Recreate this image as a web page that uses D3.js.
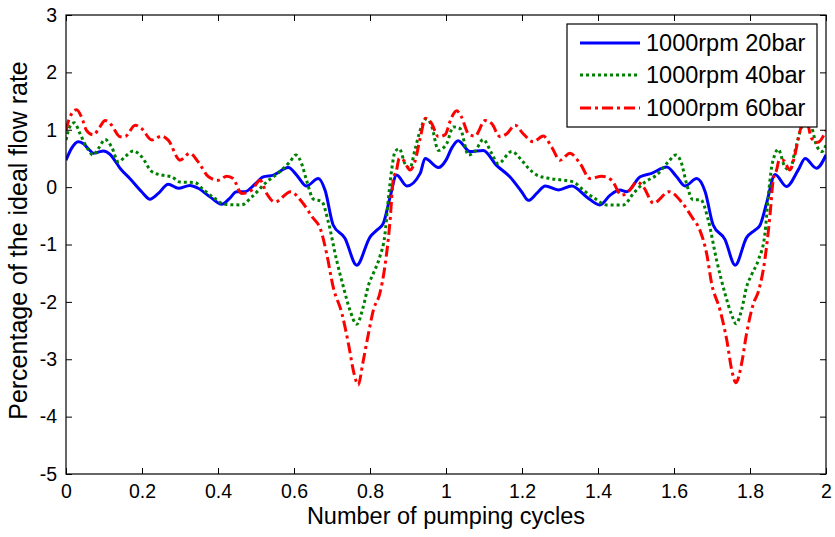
<!DOCTYPE html>
<html>
<head>
<meta charset="utf-8">
<script src="https://cdn.jsdelivr.net/npm/d3@7"></script>
<style>
  html, body { margin: 0; padding: 0; background: #ffffff; }
  svg { display: block; font-family: "Liberation Sans", Arial, Helvetica, sans-serif; }
</style>
</head>
<body>
<svg id="chart" width="835" height="537"></svg>
<script>
// ---------------- data ----------------
const xTicks = [0, 0.2, 0.4, 0.6, 0.8, 1, 1.2, 1.4, 1.6, 1.8, 2];
const yTicks = [-5, -4, -3, -2, -1, 0, 1, 2, 3];
const seriesNames = ["1000rpm 20bar", "1000rpm 40bar", "1000rpm 60bar"];

const flow20bar = [
  [0.000,0.47],[0.015,0.68],[0.032,0.79],[0.045,0.76],[0.060,0.66],[0.072,0.59],[0.085,0.61],
  [0.098,0.63],[0.116,0.57],[0.130,0.45],[0.142,0.33],[0.168,0.15],[0.199,-0.08],[0.221,-0.21],
  [0.243,-0.11],[0.269,0.05],[0.296,-0.02],[0.326,0.03],[0.348,-0.02],[0.379,-0.17],[0.410,-0.30],
  [0.430,-0.20],[0.449,-0.08],[0.471,-0.08],[0.497,0.05],[0.519,0.18],[0.546,0.21],[0.585,0.34],
  [0.607,0.21],[0.633,0.02],[0.664,0.15],[0.682,-0.06],[0.703,-0.66],[0.734,-0.89],[0.765,-1.36],
  [0.800,-0.87],[0.818,-0.75],[0.835,-0.63],[0.853,-0.17],[0.870,0.21],[0.897,0.02],[0.932,0.24],
  [0.945,0.50],[0.980,0.34],[1.000,0.47],[1.015,0.68],[1.032,0.81],[1.063,0.62],[1.098,0.64],
  [1.133,0.38],[1.168,0.18],[1.199,-0.08],[1.217,-0.23],[1.240,-0.10],[1.261,0.02],[1.296,-0.05],
  [1.331,0.02],[1.370,-0.17],[1.405,-0.31],[1.432,-0.14],[1.458,-0.05],[1.475,-0.08],[1.511,0.18],
  [1.541,0.24],[1.581,0.35],[1.607,0.18],[1.629,0.02],[1.660,0.15],[1.682,-0.08],[1.703,-0.66],
  [1.734,-0.91],[1.761,-1.36],[1.791,-0.88],[1.813,-0.75],[1.826,-0.67],[1.844,-0.27],[1.866,0.22],
  [1.896,0.01],[1.927,0.30],[1.945,0.50],[1.975,0.33],[2.000,0.56]
];

const flow40bar = [
  [0.000,0.82],[0.010,1.05],[0.022,1.12],[0.037,0.93],[0.054,0.70],[0.072,0.56],[0.085,0.67],
  [0.103,0.83],[0.120,0.70],[0.138,0.44],[0.155,0.53],[0.177,0.63],[0.199,0.53],[0.226,0.27],
  [0.252,0.21],[0.278,0.18],[0.300,0.09],[0.339,0.08],[0.361,-0.04],[0.392,-0.20],[0.418,-0.30],
  [0.462,-0.31],[0.489,-0.17],[0.528,0.09],[0.563,0.27],[0.589,0.44],[0.605,0.56],[0.620,0.41],
  [0.633,0.12],[0.651,-0.21],[0.673,-0.25],[0.690,-0.60],[0.712,-1.27],[0.730,-1.74],[0.747,-2.14],
  [0.765,-2.39],[0.782,-2.09],[0.796,-1.71],[0.809,-1.50],[0.826,-1.21],[0.839,-0.84],[0.848,-0.23],
  [0.857,0.30],[0.866,0.62],[0.877,0.67],[0.892,0.41],[0.905,0.33],[0.918,0.64],[0.932,0.99],
  [0.949,1.19],[0.962,1.07],[0.980,0.64],[1.002,0.76],[1.019,1.05],[1.037,1.02],[1.059,0.56],
  [1.076,0.62],[1.098,0.83],[1.120,0.59],[1.137,0.41],[1.173,0.62],[1.199,0.47],[1.217,0.33],
  [1.239,0.21],[1.274,0.15],[1.309,0.12],[1.335,0.09],[1.361,-0.05],[1.392,-0.20],[1.423,-0.31],
  [1.467,-0.31],[1.493,-0.11],[1.524,0.09],[1.554,0.21],[1.585,0.44],[1.605,0.56],[1.620,0.41],
  [1.633,0.06],[1.650,-0.22],[1.670,-0.22],[1.690,-0.57],[1.712,-1.27],[1.734,-1.85],[1.752,-2.23],
  [1.763,-2.38],[1.778,-2.14],[1.791,-1.74],[1.804,-1.53],[1.822,-1.27],[1.839,-0.83],[1.848,-0.17],
  [1.857,0.35],[1.865,0.56],[1.874,0.66],[1.892,0.35],[1.905,0.30],[1.918,0.62],[1.936,1.05],
  [1.950,1.19],[1.962,1.05],[1.975,0.73],[1.989,0.62],[2.000,0.73]
];

const flow60bar = [
  [0.000,0.99],[0.010,1.22],[0.028,1.35],[0.041,1.22],[0.054,0.99],[0.072,0.91],[0.089,1.05],
  [0.103,1.16],[0.120,1.08],[0.142,0.88],[0.155,0.88],[0.182,1.08],[0.199,1.02],[0.226,0.82],
  [0.252,0.89],[0.269,0.82],[0.300,0.47],[0.326,0.59],[0.348,0.44],[0.375,0.18],[0.401,0.12],
  [0.423,0.19],[0.440,0.15],[0.462,-0.11],[0.489,-0.05],[0.511,0.12],[0.528,-0.11],[0.550,-0.26],
  [0.591,-0.08],[0.620,-0.25],[0.648,-0.52],[0.670,-0.74],[0.686,-1.16],[0.703,-1.74],[0.726,-2.20],
  [0.743,-2.72],[0.758,-3.25],[0.769,-3.45],[0.781,-3.07],[0.796,-2.55],[0.809,-2.14],[0.826,-1.85],
  [0.839,-1.39],[0.853,-0.57],[0.861,0.12],[0.870,0.30],[0.877,0.50],[0.888,0.47],[0.905,0.30],
  [0.918,0.44],[0.932,0.85],[0.946,1.20],[0.962,1.11],[0.980,0.88],[0.997,0.91],[1.015,1.22],
  [1.028,1.33],[1.041,1.22],[1.059,0.93],[1.076,0.89],[1.103,1.16],[1.120,1.11],[1.142,0.88],
  [1.160,0.93],[1.182,1.08],[1.203,0.93],[1.230,0.79],[1.256,0.89],[1.278,0.70],[1.300,0.47],
  [1.326,0.59],[1.353,0.41],[1.379,0.15],[1.410,0.19],[1.436,0.12],[1.462,-0.14],[1.484,-0.05],
  [1.502,0.09],[1.519,0.01],[1.546,-0.28],[1.587,-0.08],[1.620,-0.26],[1.647,-0.52],[1.668,-0.75],
  [1.686,-1.16],[1.699,-1.68],[1.721,-2.14],[1.739,-2.67],[1.752,-3.19],[1.763,-3.41],[1.778,-3.07],
  [1.791,-2.55],[1.809,-2.03],[1.822,-1.82],[1.839,-1.27],[1.853,-0.46],[1.861,0.12],[1.870,0.30],
  [1.877,0.47],[1.887,0.47],[1.905,0.30],[1.918,0.56],[1.932,0.99],[1.947,1.20],[1.962,0.85],
  [1.978,0.78],[2.000,0.99]
];

const seriesData = [flow20bar, flow40bar, flow60bar];
const seriesColors = ["#0000ff", "#008000", "#ff0000"];
const seriesDash = [null, "3,3", "11,4,3,4"];

// ---------------- layout ----------------
const margin = { left: 66, top: 15, right: 835 - 826, bottom: 537 - 474 };
const W = 835, H = 537;
const svg = d3.select("#chart");

const x = d3.scaleLinear().domain([0, 2]).range([margin.left, W - margin.right]);
const y = d3.scaleLinear().domain([-5, 3]).range([H - margin.bottom, margin.top]);

svg.append("defs").append("clipPath").attr("id", "plotclip")
  .append("rect")
  .attr("x", x(0)).attr("y", y(3))
  .attr("width", x(2) - x(0)).attr("height", y(-5) - y(3));

// lines
const line = d3.line().x(d => x(d[0])).y(d => y(d[1])).curve(d3.curveMonotoneX);
const gLines = svg.append("g").attr("clip-path", "url(#plotclip)");
seriesData.forEach((data, i) => {
  gLines.append("path")
    .datum(data)
    .attr("d", line)
    .attr("fill", "none")
    .attr("stroke", seriesColors[i])
    .attr("stroke-width", 3)
    .attr("stroke-dasharray", seriesDash[i])
    .attr("stroke-linejoin", "round");
});

// axes (MATLAB style: inward ticks on all four sides)
const tickLen = 6;
const fmt = d => String(d);
const axisStyle = g => {
  g.select(".domain").remove();
  g.selectAll(".tick line").attr("stroke", "#000").attr("stroke-width", 1);
  g.selectAll(".tick text").attr("fill", "#000").attr("font-size", 19.5)
    .attr("font-family", "Liberation Sans, Arial, sans-serif");
};

svg.append("g").attr("transform", `translate(0,${y(-5)})`)
  .call(d3.axisBottom(x).tickValues(xTicks).tickFormat(fmt).tickSizeInner(-tickLen).tickSizeOuter(0).tickPadding(10))
  .call(axisStyle);
svg.append("g").attr("transform", `translate(0,${y(3)})`)
  .call(d3.axisTop(x).tickValues(xTicks).tickFormat("").tickSizeInner(-tickLen).tickSizeOuter(0))
  .call(axisStyle);
svg.append("g").attr("transform", `translate(${x(0)},0)`)
  .call(d3.axisLeft(y).tickValues(yTicks).tickFormat(fmt).tickSizeInner(-tickLen).tickSizeOuter(0).tickPadding(9))
  .call(axisStyle);
svg.append("g").attr("transform", `translate(${x(2)},0)`)
  .call(d3.axisRight(y).tickValues(yTicks).tickFormat("").tickSizeInner(-tickLen).tickSizeOuter(0))
  .call(axisStyle);

svg.append("rect")
  .attr("x", x(0)).attr("y", y(3))
  .attr("width", x(2) - x(0)).attr("height", y(-5) - y(3))
  .attr("fill", "none").attr("stroke", "#000").attr("stroke-width", 1.2);

// axis titles
svg.append("text")
  .attr("x", (x(0) + x(2)) / 2).attr("y", 524)
  .attr("text-anchor", "middle").attr("font-size", 23.5).attr("fill", "#000")
  .text("Number of pumping cycles");
svg.append("text")
  .attr("transform", `translate(27,${(y(3) + y(-5)) / 2 - 4}) rotate(-90)`)
  .attr("text-anchor", "middle").attr("font-size", 25).attr("fill", "#000")
  .text("Percentage of the ideal flow rate");

// legend
const lg = svg.append("g");
const lgX = 567, lgY = 24, lgW = 250, lgH = 103;
lg.append("rect").attr("x", lgX).attr("y", lgY).attr("width", lgW).attr("height", lgH)
  .attr("fill", "#fff").attr("stroke", "#000").attr("stroke-width", 1.2);
const rowY = [43, 75, 108];
seriesNames.forEach((name, i) => {
  lg.append("line")
    .attr("x1", 580).attr("x2", 640).attr("y1", rowY[i]).attr("y2", rowY[i])
    .attr("stroke", seriesColors[i]).attr("stroke-width", 3)
    .attr("stroke-dasharray", seriesDash[i]);
  lg.append("text")
    .attr("x", 646).attr("y", rowY[i]).attr("dy", "0.35em")
    .attr("font-size", 23.5).attr("fill", "#000")
    .text(name);
});
</script>
</body>
</html>
